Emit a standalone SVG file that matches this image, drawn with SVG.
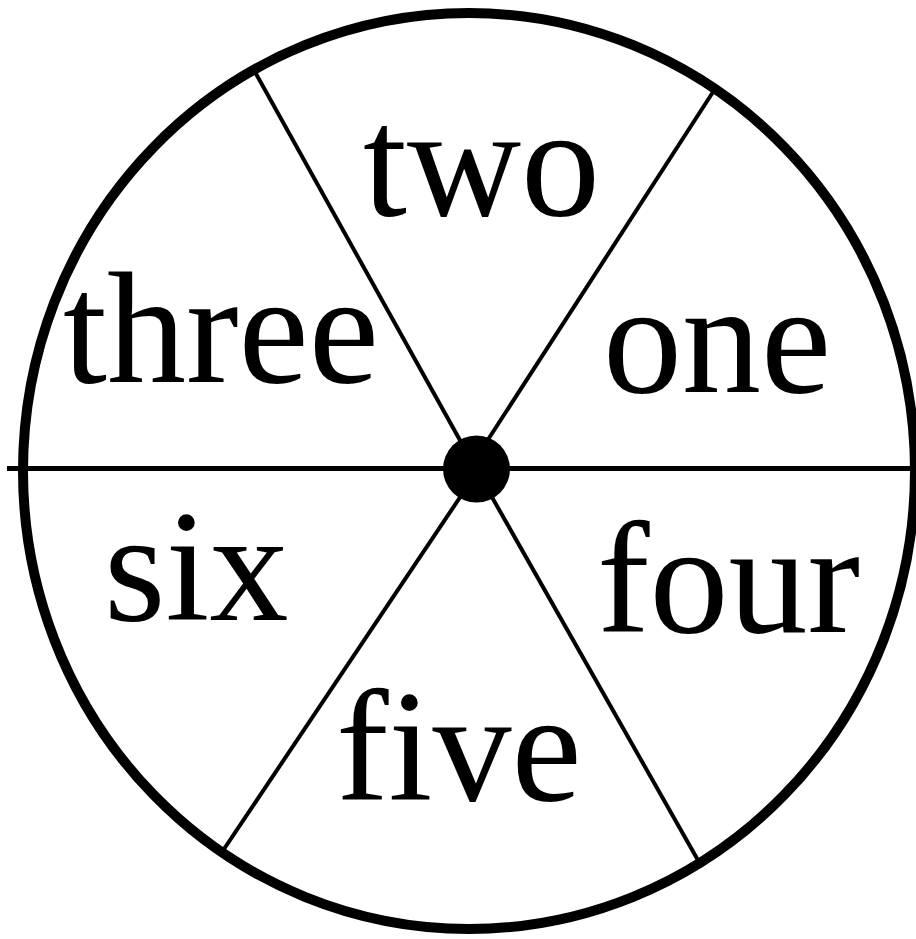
<svg xmlns="http://www.w3.org/2000/svg" width="916" height="939" viewBox="0 0 916 939">
<style>
.lbl{font-family:"Liberation Serif","Times New Roman",serif;font-size:158px;fill:#000}
.sp{stroke:#000;stroke-width:4;fill:none}
</style>
<rect width="916" height="939" fill="#fff"/>
<g id="wheel">
<ellipse cx="469" cy="471" rx="446" ry="458" fill="none" stroke="#000" stroke-width="10"/>
</g>
<g id="connectors">
<line class="sp" x1="7" y1="468.5" x2="916" y2="468.5" style="stroke-width:5"/>
<line class="sp" x1="255" y1="72" x2="476" y2="469"/>
<line class="sp" x1="713" y1="92" x2="469" y2="469"/>
<line class="sp" x1="220" y1="855" x2="479" y2="469"/>
<line class="sp" x1="699" y1="862" x2="476" y2="469"/>
</g>
<g id="hub"><circle cx="476.5" cy="469" r="33.5" fill="#000"/></g>
<g id="one"><text class="lbl" x="603" y="392">one</text></g>
<g id="two"><text class="lbl" x="363" y="215">two</text></g>
<g id="three"><text class="lbl" x="63" y="382">three</text></g>
<g id="four"><text class="lbl" x="597" y="632">four</text></g>
<g id="five"><text class="lbl" x="336" y="800">five</text></g>
<g id="six"><text class="lbl" x="104" y="620">six</text></g>
</svg>
